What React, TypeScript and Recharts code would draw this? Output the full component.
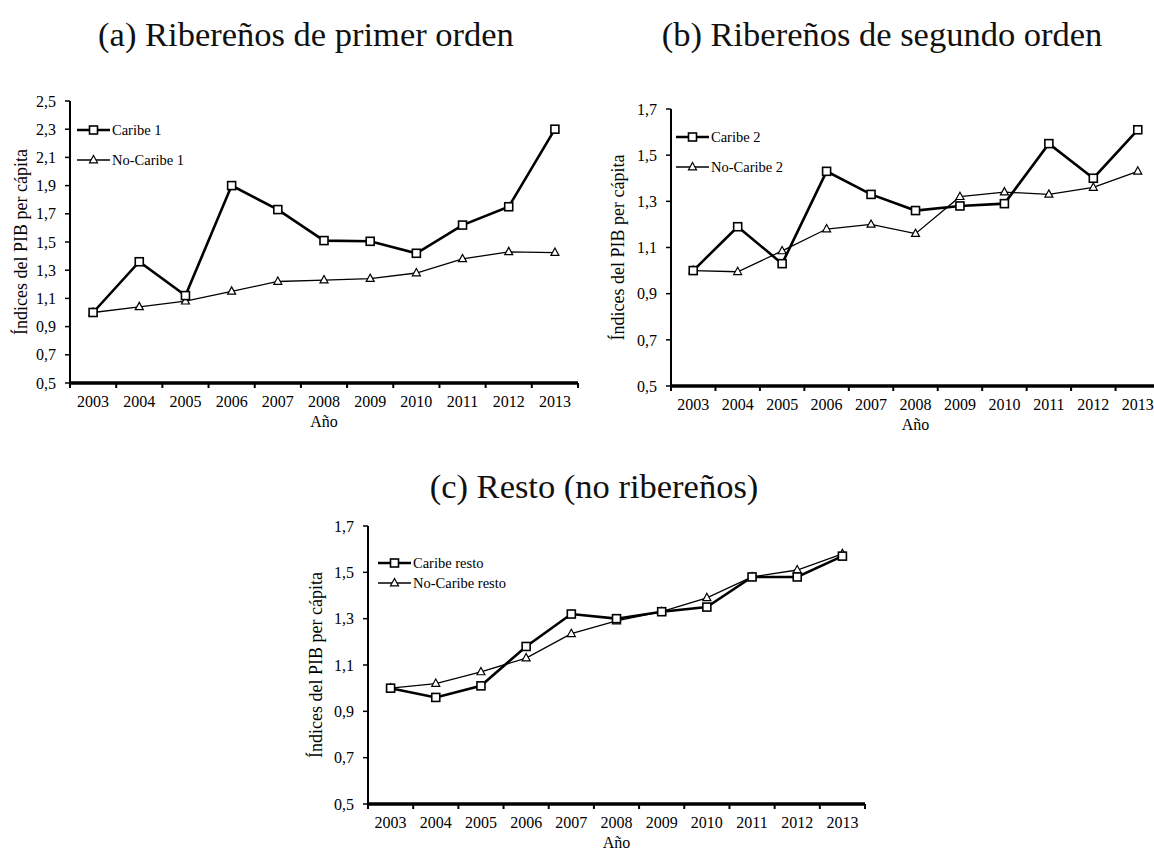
import React from 'react';
import { LineChart, Line, XAxis, YAxis, Legend } from 'recharts';

// Años y series (índices del PIB per cápita, 2003 = 1)
const years = [2003, 2004, 2005, 2006, 2007, 2008, 2009, 2010, 2011, 2012, 2013];

const caribe1 = [1.0, 1.36, 1.12, 1.9, 1.73, 1.51, 1.505, 1.42, 1.62, 1.75, 2.3];
const noCaribe1 = [1.0, 1.04, 1.08, 1.15, 1.22, 1.23, 1.24, 1.28, 1.38, 1.43, 1.425];

const caribe2 = [1.0, 1.19, 1.03, 1.43, 1.33, 1.26, 1.28, 1.29, 1.55, 1.4, 1.61];
const noCaribe2 = [1.0, 0.995, 1.085, 1.18, 1.2, 1.16, 1.32, 1.34, 1.33, 1.36, 1.43];

const caribeResto = [1.0, 0.96, 1.01, 1.18, 1.32, 1.3, 1.33, 1.35, 1.48, 1.48, 1.57];
const noCaribeResto = [1.0, 1.02, 1.07, 1.13, 1.235, 1.29, 1.33, 1.39, 1.48, 1.51, 1.58];

const ticksA = [0.5, 0.7, 0.9, 1.1, 1.3, 1.5, 1.7, 1.9, 2.1, 2.3, 2.5];
const ticksBC = [0.5, 0.7, 0.9, 1.1, 1.3, 1.5, 1.7];

const yTitle = 'Índices del PIB per cápita';
const xTitle = 'Año';

const FONT = "'Liberation Serif', 'Times New Roman', serif";

const fmt = (v: number) => v.toFixed(1).replace('.', ',');

// x ticks: year centres get labels, half-years get the small marks
const xTicks = [years[0] - 0.5, ...years.flatMap((y) => [y, y + 0.5])];

const squareDot = (p: any) => {
  const { cx, cy, index } = p;
  if (cx == null || cy == null) return <g key={`sq-${index}`} />;
  return (
    <rect key={`sq-${index}`} x={cx - 4} y={cy - 4} width={8} height={8}
      fill="#fff" stroke="#000" strokeWidth={1.6} />
  );
};

const triDot = (p: any) => {
  const { cx, cy, index } = p;
  if (cx == null || cy == null) return <g key={`tr-${index}`} />;
  return (
    <path key={`tr-${index}`} d={`M${cx},${cy - 4.5} L${cx + 4},${cy + 2.8} L${cx - 4},${cy + 2.8} Z`}
      fill="#fff" stroke="#000" strokeWidth={1.2} />
  );
};

function XTick(props: any) {
  const { x, y, payload } = props;
  const v = payload.value;
  if (Number.isInteger(v)) {
    return (
      <text x={x} y={y + 24} textAnchor="middle" fontFamily={FONT} fontSize={16} fill="#000">
        {v}
      </text>
    );
  }
  return <line x1={x} y1={y} x2={x} y2={y + 5} stroke="#000" strokeWidth={2} />;
}

function LegendBox({ names, gap }: { names: string[]; gap: number }) {
  return (
    <svg width={220} height={gap + 16} style={{ display: 'block', overflow: 'visible' }}>
      {names.map((n, i) => {
        const cy = 8 + i * gap;
        return (
          <g key={n}>
            <line x1={0} x2={33} y1={cy} y2={cy} stroke="#000" strokeWidth={i === 0 ? 2.6 : 1.3} />
            {i === 0
              ? <rect x={16.5 - 4} y={cy - 4} width={8} height={8} fill="#fff" stroke="#000" strokeWidth={1.6} />
              : <path d={`M16.5,${cy - 4.5} L20.5,${cy + 2.8} L12.5,${cy + 2.8} Z`} fill="#fff" stroke="#000" strokeWidth={1.2} />}
            <text x={35} y={cy} dominantBaseline="central" fontFamily={FONT} fontSize={14.5} fill="#000">
              {n}
            </text>
          </g>
        );
      })}
    </svg>
  );
}

interface PanelProps {
  plotLeft: number;
  plotTop: number;
  plotW: number;
  plotH: number;
  yTicks: number[];
  s1: number[];
  s2: number[];
  names: string[];
  legendX: number;
  legendY: number;
  legendGap: number;
  yLabelOffset: number;
}

function Panel(p: PanelProps) {
  const padL = 70;
  const padT = 20;
  const padR = 10;
  const xh = 60;
  const chartLeft = p.plotLeft - padL;
  const chartTop = p.plotTop - padT;
  const data = years.map((year, i) => ({ year, c: p.s1[i], n: p.s2[i] }));
  return (
    <div style={{ position: 'absolute', left: chartLeft, top: chartTop }}>
      <LineChart width={padL + p.plotW + padR} height={padT + p.plotH + xh} data={data}
        margin={{ top: padT, right: padR, left: 0, bottom: 0 }}>
        <XAxis dataKey="year" type="number" domain={[years[0] - 0.5, years[years.length - 1] + 0.5]}
          ticks={xTicks} interval={0} tickSize={0} tickMargin={0} tickLine={false}
          axisLine={{ stroke: '#000', strokeWidth: 3.5 }} height={xh} tick={<XTick />}
          allowDataOverflow
          label={{ value: xTitle, position: 'insideBottom', offset: 16, fontFamily: FONT, fontSize: 16, fill: '#000' }} />
        <YAxis type="number" domain={[p.yTicks[0], p.yTicks[p.yTicks.length - 1]]} ticks={p.yTicks}
          interval={0} tickFormatter={fmt} width={padL} tickSize={5} tickMargin={9}
          tick={{ fontFamily: FONT, fontSize: 16, fill: '#000' }}
          tickLine={{ stroke: '#000', strokeWidth: 1.5 }}
          axisLine={{ stroke: '#000', strokeWidth: 2 }}
          label={{ value: yTitle, angle: -90, position: 'insideLeft', offset: p.yLabelOffset,
            fontFamily: FONT, fontSize: 18, fill: '#000', style: { textAnchor: 'middle' } }} />
        <Legend layout="vertical" align="center" verticalAlign="middle"
          wrapperStyle={{ left: p.legendX - chartLeft, top: p.legendY - 8 - chartTop, width: 220 }}
          content={() => <LegendBox names={p.names} gap={p.legendGap} />} />
        <Line dataKey="n" name={p.names[1]} stroke="#000" strokeWidth={1.3} dot={triDot}
          activeDot={false} isAnimationActive={false} />
        <Line dataKey="c" name={p.names[0]} stroke="#000" strokeWidth={2.6} dot={squareDot}
          activeDot={false} isAnimationActive={false} />
      </LineChart>
    </div>
  );
}

function Title({ text, x, y }: { text: string; x: number; y: number }) {
  return (
    <div style={{ position: 'absolute', left: x, top: y, transform: 'translate(-50%, -50%)',
      whiteSpace: 'nowrap', fontFamily: FONT, fontSize: 34.5, lineHeight: 1, color: '#111' }}>
      {text}
    </div>
  );
}

export default function App() {
  return (
    <div style={{ position: 'fixed', left: 0, top: 0, width: 1154, height: 850, overflow: 'hidden', background: '#fff' }}>
      <Title text="(a) Ribereños de primer orden" x={306} y={34} />
      <Title text="(b) Ribereños de segundo orden" x={882} y={34} />
      <Title text="(c) Resto (no ribereños)" x={594} y={486} />
      <Panel plotLeft={70} plotTop={101} plotW={508} plotH={282} yTicks={ticksA}
        s1={caribe1} s2={noCaribe1} names={['Caribe 1', 'No-Caribe 1']}
        legendX={77} legendY={130} legendGap={30} yLabelOffset={21} />
      <Panel plotLeft={671} plotTop={109} plotW={489} plotH={277} yTicks={ticksBC}
        s1={caribe2} s2={noCaribe2} names={['Caribe 2', 'No-Caribe 2']}
        legendX={676} legendY={137} legendGap={30} yLabelOffset={17} />
      <Panel plotLeft={368} plotTop={526} plotW={497} plotH={278} yTicks={ticksBC}
        s1={caribeResto} s2={noCaribeResto} names={['Caribe resto', 'No-Caribe resto']}
        legendX={378} legendY={563} legendGap={20} yLabelOffset={18} />
    </div>
  );
}
